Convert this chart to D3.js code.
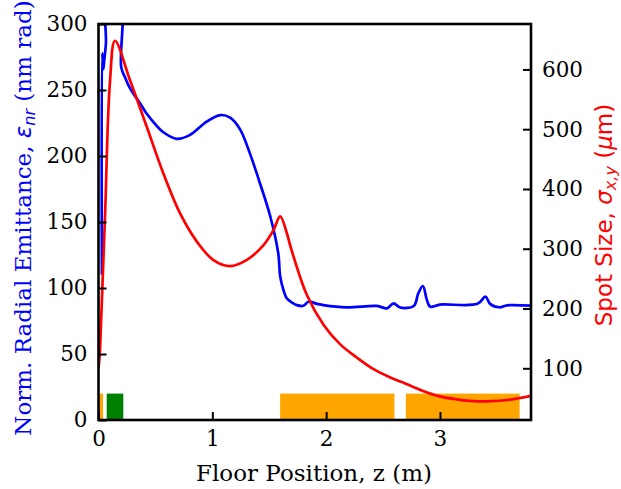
<!DOCTYPE html>
<html>
<head>
<meta charset="utf-8">
<script src="https://cdn.jsdelivr.net/npm/d3@7"></script>
<style>
  html, body { margin: 0; padding: 0; background: #fff; }
  svg { display: block; }
</style>
</head>
<body>
<svg id="chart" width="621" height="489"></svg>
<script>
// Normalized radial emittance along the beamline (left axis, nm rad)
const emitZ = [0.030, 0.032, 0.038, 0.043, 0.050, 0.065, 0.080, 0.190, 0.200, 0.236, 0.260, 0.300,
  0.365, 0.424, 0.500, 0.570, 0.688, 0.805, 0.950, 1.070, 1.157, 1.245, 1.330, 1.420, 1.510,
  1.580, 1.596, 1.625, 1.655, 1.700, 1.743, 1.800, 1.845, 1.920, 1.977, 2.180, 2.447, 2.535,
  2.593, 2.650, 2.770, 2.810, 2.850, 2.885, 2.915, 3.000, 3.330, 3.400, 3.440, 3.520, 3.590, 3.800];
const emitV = [110, 278, 272, 266, 272, 285, 320, 320, 267, 259, 254, 248,
  240, 232, 224, 218, 213, 216, 226, 231, 229, 220, 202, 179, 154,
  126, 109, 98.5, 92, 89, 87, 86.5, 89.6, 88, 87, 85.3, 86.4, 84.6,
  88.4, 85.2, 86.4, 96, 101.5, 91, 85.8, 87.4, 88, 93.4, 88, 85.4, 86.9, 86.6];

// Beam spot size along the beamline (right axis, µm)
const spotZ = [0.000, 0.013, 0.020, 0.057, 0.100, 0.145, 0.277, 0.424, 0.570, 0.717, 0.864,
  1.010, 1.157, 1.300, 1.450, 1.537, 1.596, 1.655, 1.685, 1.830, 1.977, 2.124, 2.270, 2.417,
  2.564, 2.650, 2.680, 2.840, 3.000, 3.150, 3.300, 3.450, 3.590, 3.800];
const spotV = [100, 130, 165, 353, 577, 648, 582, 504, 426, 359, 312,
  281, 271, 281, 306, 331, 354, 326, 305, 223, 173, 140, 118, 98.5,
  84.6, 78, 76, 63, 53, 48, 45, 45, 47, 54];

// Beamline elements along the floor (start, end, colour)
const elemStart = [0.000, 0.072, 1.596, 2.700];
const elemEnd   = [0.040, 0.218, 2.600, 3.700];
const elemColor = ["#ffa500", "#008000", "#ffa500", "#ffa500"];
const elemHeight = 20;

const xTicks = [0, 1, 2, 3];
const yLeftTicks = [0, 50, 100, 150, 200, 250, 300];
const yRightTicks = [100, 200, 300, 400, 500, 600];

const svg = d3.select("#chart");
const plotL = 98.5, plotR = 531, plotT = 24, plotB = 420;

const x = d3.scaleLinear().domain([0, 3.8]).range([plotL, plotR]);
const yL = d3.scaleLinear().domain([0, 300]).range([plotB, plotT]);
const yR = d3.scaleLinear().domain([13.5, 676]).range([plotB, plotT]);

svg.append("defs").append("clipPath").attr("id", "plotClip")
  .append("rect").attr("x", plotL).attr("y", plotT)
  .attr("width", plotR - plotL).attr("height", plotB - plotT);

const plot = svg.append("g").attr("clip-path", "url(#plotClip)");

// element blocks
plot.selectAll("rect.elem").data(elemStart).join("rect")
  .attr("class", "elem")
  .attr("x", (d) => x(d))
  .attr("width", (d, i) => x(elemEnd[i]) - x(d))
  .attr("y", yL(elemHeight))
  .attr("height", yL(0) - yL(elemHeight))
  .attr("fill", (d, i) => elemColor[i]);

const curve = d3.curveCatmullRom.alpha(0.5);

const emitLine = d3.line().x((d) => x(d[0])).y((d) => yL(d[1])).curve(curve);
plot.append("path")
  .datum(emitZ.map((z, i) => [z, emitV[i]]))
  .attr("d", emitLine)
  .attr("fill", "none").attr("stroke", "#0000ff")
  .attr("stroke-width", 2.7).attr("stroke-linejoin", "round");

const spotLine = d3.line().x((d) => x(d[0])).y((d) => yR(d[1])).curve(curve);
plot.append("path")
  .datum(spotZ.map((z, i) => [z, spotV[i]]))
  .attr("d", spotLine)
  .attr("fill", "none").attr("stroke", "#ff0000")
  .attr("stroke-width", 2.7).attr("stroke-linejoin", "round");

// axes with inward ticks
const serif = "'DejaVu Serif', serif";
const sans = "'DejaVu Sans', sans-serif";
const tickFs = 21.5;
const labelFs = 23;

function styleAxis(g) {
  g.select(".domain").remove();
  g.selectAll(".tick line").attr("stroke", "#000").attr("stroke-width", 2);
  g.selectAll(".tick text").attr("font-family", serif).attr("font-size", tickFs).attr("fill", "#000");
}

svg.append("g").attr("transform", `translate(0,${plotB})`)
  .call(d3.axisBottom(x).tickValues(xTicks).tickFormat(d3.format("d")).tickSizeInner(-8).tickPadding(11))
  .call(styleAxis);

svg.append("g").attr("transform", `translate(${plotL},0)`)
  .call(d3.axisLeft(yL).tickValues(yLeftTicks).tickFormat(d3.format("d")).tickSizeInner(-8).tickPadding(11))
  .call(styleAxis);

svg.append("g").attr("transform", `translate(${plotR},0)`)
  .call(d3.axisRight(yR).tickValues(yRightTicks).tickFormat(d3.format("d")).tickSizeInner(-8).tickPadding(11))
  .call(styleAxis);

// frame
svg.append("rect").attr("x", plotL).attr("y", plotT)
  .attr("width", plotR - plotL).attr("height", plotB - plotT)
  .attr("fill", "none").attr("stroke", "#000").attr("stroke-width", 2.6);

// axis titles
svg.append("text")
  .attr("x", 314).attr("y", 481)
  .attr("text-anchor", "middle")
  .attr("font-family", serif).attr("font-size", labelFs).attr("fill", "#000")
  .text("Floor Position, z (m)");

const lt = svg.append("text")
  .attr("transform", "translate(31,218) rotate(-90)")
  .attr("text-anchor", "middle")
  .attr("font-family", serif).attr("font-size", labelFs).attr("fill", "#0000ff");
lt.append("tspan").text("Norm. Radial Emittance, ");
lt.append("tspan").attr("font-family", sans).attr("font-style", "italic").text("ε");
lt.append("tspan").attr("font-family", sans).attr("font-style", "italic")
  .attr("font-size", labelFs * 0.7).attr("dy", 4).text("nr");
lt.append("tspan").attr("dy", -4).text(" (nm rad)");

const rt = svg.append("text")
  .attr("transform", "translate(612,215) rotate(-90)")
  .attr("text-anchor", "middle")
  .attr("font-family", sans).attr("font-size", labelFs).attr("fill", "#ff0000");
rt.append("tspan").text("Spot Size, ");
rt.append("tspan").attr("font-style", "italic").text("σ");
rt.append("tspan").attr("font-style", "italic").attr("font-size", labelFs * 0.7).attr("dy", 4).text("x,y");
rt.append("tspan").attr("dy", -4).text(" (");
rt.append("tspan").attr("font-style", "italic").text("μ");
rt.append("tspan").text("m)");
</script>
</body>
</html>
